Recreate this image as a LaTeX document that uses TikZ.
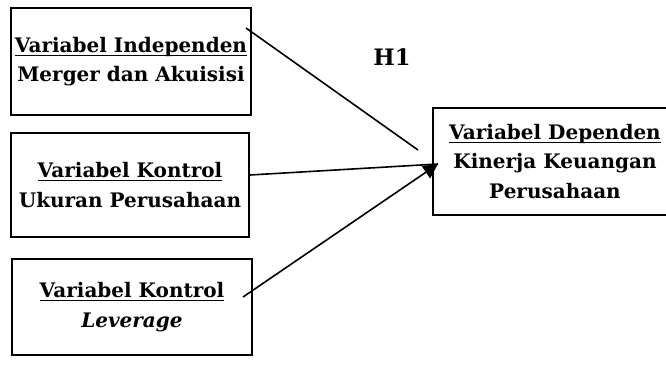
\documentclass[tikz,border=0pt]{standalone}
\usepackage{fontspec}
\setmainfont{DejaVu Serif}
\usetikzlibrary{arrows.meta}
\newcommand\myul[1]{\setbox0\hbox{#1}\leavevmode\rlap{\rule[-2.6pt]{\wd0}{0.8pt}}\box0}
\tikzset{
  varbox/.style={draw=black, line width=1.2pt, inner sep=0pt, align=center,
    font=\bfseries\fontsize{15}{22}\selectfont},
  link/.style={draw=black, line width=1.2pt},
  tip/.style={-{Triangle[length=11pt,width=11pt]}}
}
\begin{document}
\begin{tikzpicture}[x=0.75pt,y=-0.75pt]
\useasboundingbox (0,0) rectangle (666,366);
\node[varbox, minimum width=180pt, minimum height=80.25pt] (b1) at (131,61.5)
  {\myul{Variabel Independen}\\Merger dan Akuisisi};
\node[varbox, minimum width=178.5pt, minimum height=78pt] (b2) at (130,185)
  {\myul{Variabel Kontrol}\\Ukuran Perusahaan};
\node[varbox, minimum width=180pt, minimum height=72pt] (b3) at (132,307)
  {\myul{Variabel Kontrol}\\\textit{Leverage}};
\node[varbox, minimum width=183pt, minimum height=80.25pt] (b4) at (555,161.5)
  {\myul{Variabel Dependen}\\Kinerja Keuangan\\Perusahaan};
\node[font=\bfseries\fontsize{17}{20}\selectfont] (h1) at (392,57) {H1};
\coordinate (s1) at (246,28);
\coordinate (e1) at (418,150);
\coordinate (s2) at (250,175);
\coordinate (s3) at (243,297);
\coordinate (t) at (438,164);
\draw[link] (s1) -- (e1);
\draw[link] (s2) -- (t);
\draw[link, tip] (s3) -- (t);
\end{tikzpicture}
\end{document}
